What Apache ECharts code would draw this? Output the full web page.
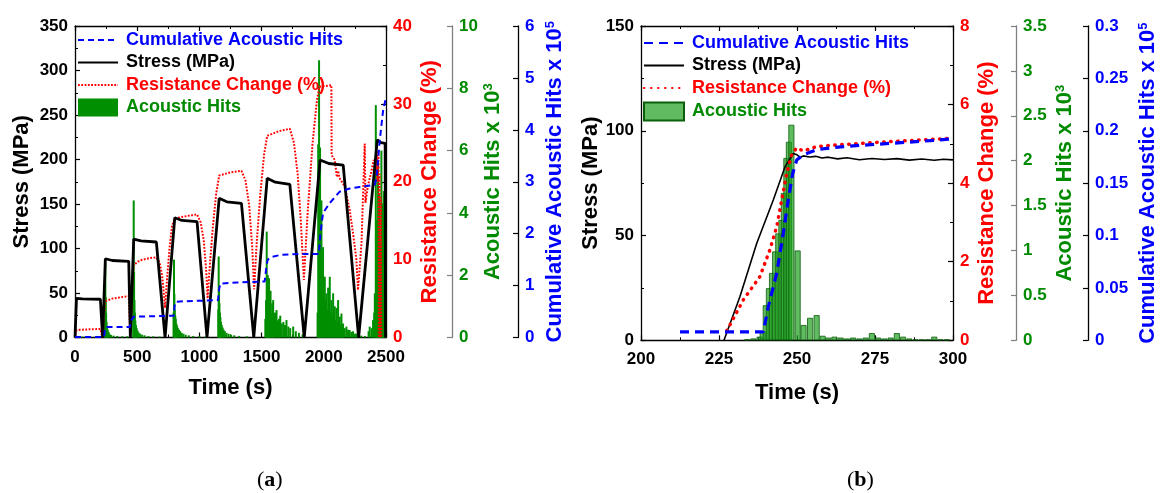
<!DOCTYPE html>
<html><head><meta charset="utf-8">
<script src="https://cdn.jsdelivr.net/npm/echarts@6/dist/echarts.min.js"></script>
<style>html,body{margin:0;padding:0;background:#fff}#c{width:1161px;height:493px}</style>
</head><body><div id="c"></div>
<script>
// ---------- Panel (a) data : [time s, value] ----------
const aStress = [[0,0],[12,44],[60,43.5],[204,43],[222,0],[228,0],[244,88.5],[300,86.5],[432,85.6],[445,0],[452,0],[472,110.5],[530,108.5],[654,107.3],[724,0],[802,134.6],[860,131.5],[981,130.1],[1061,0],[1159,156.4],[1220,152.5],[1338,150.8],[1437,0],[1545,178.9],[1610,174.5],[1727,172.1],[1843,0],[1970,199.4],[2040,195.5],[2156,193.8],[2280,0],[2430,222],[2460,219],[2493,218],[2496,0]];
const aResist = [[0,0],[8,0.9],[40,1.0],[120,1.05],[204,1.1],[212,0.5],[222,0.05],[230,0.2],[240,4.4],[250,4.7],[300,5.0],[380,5.2],[432,5.33],[438,3],[445,0.3],[452,2.5],[462,7.5],[472,9.3],[520,9.9],[600,10.2],[654,10.3],[680,9.6],[700,8.0],[715,5.5],[724,3.8],[740,7.5],[760,11.5],[780,14.3],[802,15.3],[900,15.6],[981,15.8],[1010,14.8],[1035,12.5],[1055,8.5],[1066,5.0],[1085,9.5],[1110,14.5],[1135,18.5],[1159,20.8],[1250,21.2],[1338,21.4],[1370,20.2],[1400,17.0],[1425,11.5],[1440,6.2],[1460,12],[1490,18.5],[1520,23.5],[1545,25.9],[1640,26.5],[1727,26.8],[1760,25.0],[1790,21.0],[1815,15.0],[1840,7.4],[1870,16],[1910,25],[1945,30.5],[1965,32.2],[1975,32.4],[2061,32.4],[2063,23.4],[2088,22.8],[2105,20.6],[2115,21.4],[2125,20.5],[2168,19.4],[2208,16.4],[2235,13.4],[2262,10.0],[2275,6.1],[2303,12.1],[2329,24.9],[2335,17.3],[2355,19.5],[2385,21.5],[2400,22.8],[2415,21],[2425,24],[2432,20],[2440,23.5],[2442,0],[2448,21],[2452,0],[2458,18],[2462,0]];
const aCumul = [[0,0.01],[235,0.01],[240,0.15],[248,0.2],[440,0.2],[447,0.3],[470,0.4],[480,0.41],[794,0.42],[800,0.6],[810,0.69],[900,0.7],[1150,0.72],[1160,0.95],[1170,1.04],[1300,1.06],[1525,1.08],[1540,1.4],[1550,1.5],[1580,1.55],[1650,1.59],[1800,1.61],[1960,1.61],[1973,2.01],[1994,2.4],[2048,2.59],[2128,2.81],[2209,2.87],[2289,2.9],[2410,2.94],[2425,3.1],[2450,3.8],[2477,4.38],[2498,4.6]];
const aHits = [[20,0.05],[60,0.03],[120,0.03],[180,0.03],
[240,0.6],[244,2.4],[247,1.3],[250,0.8],[254,0.5],[258,0.35],[263,0.25],[270,0.18],[278,0.12],[290,0.08],[310,0.06],[340,0.05],[380,0.04],[420,0.04],
[468,1.0],[472,4.4],[475,2.1],[478,1.2],[481,0.8],[485,0.55],[490,0.4],[496,0.3],[503,0.22],[512,0.16],[524,0.12],[540,0.09],[560,0.07],[590,0.05],[630,0.04],[680,0.03],
[792,0.8],[796,2.5],[799,1.4],[802,0.9],[806,0.7],[810,0.6],[815,0.45],[821,0.38],[828,0.3],[836,0.25],[846,0.2],[858,0.15],[872,0.12],[890,0.09],[915,0.07],[950,0.05],[1000,0.04],[1050,0.03],
[1152,0.9],[1155,2.6],[1158,1.5],[1161,1.1],[1165,0.8],[1169,0.65],[1174,0.5],[1180,0.4],[1187,0.32],[1195,0.25],[1205,0.2],[1218,0.15],[1235,0.12],[1255,0.09],[1280,0.07],[1320,0.05],[1380,0.04],
[1530,0.6],[1536,1.2],[1541,3.4],[1546,1.5],[1550,2.0],[1555,1.1],[1560,1.9],[1566,1.0],[1572,1.5],[1578,0.8],[1585,1.1],[1593,1.2],[1600,0.7],[1608,0.8],[1620,0.88],[1630,0.55],[1640,0.6],[1650,0.7],[1662,0.45],[1675,0.5],[1688,0.4],[1700,0.56],[1715,0.35],[1730,0.3],[1754,0.35],[1775,0.2],[1800,0.15],[1830,0.1],
[1950,0.8],[1955,6.2],[1962,8.9],[1966,3.5],[1970,6.1],[1975,2.8],[1981,4.4],[1986,2.0],[1994,2.9],[2000,1.5],[2008,1.95],[2014,1.2],[2021,1.42],[2028,0.9],[2035,1.6],[2042,1.0],[2048,1.95],[2055,0.8],[2061,1.2],[2068,0.7],[2075,1.42],[2082,0.6],[2088,1.0],[2095,0.55],[2102,0.95],[2108,0.5],[2115,1.2],[2122,0.45],[2128,0.67],[2135,0.4],[2142,0.77],[2150,0.35],[2155,0.45],[2168,0.3],[2182,0.35],[2195,0.25],[2208,0.24],[2222,0.18],[2235,0.2],[2250,0.12],[2262,0.13],[2280,0.08],[2300,0.06],[2330,0.05],[2360,0.2],
[2369,0.35],[2385,0.3],[2396,0.56],[2405,0.8],[2410,1.42],[2418,7.46],[2423,2.5],[2428,3.77],[2432,2.0],[2436,5.7],[2440,3.2],[2444,4.63],[2450,1.8],[2455,2.5],[2459,3.0],[2463,6.0],[2467,2.2],[2471,4.3],[2476,3.0],[2482,4.7],[2486,2.6],[2490,4.63],[2495,3.5]];

// ---------- Panel (b) data ----------
const bStress = [[226.6,0],[231.7,20.8],[237.1,46.3],[242.4,67],[246.2,82.9],[248.8,89.2],[250,88.5],[251,87.3],[252,88],[254,87.5],[256,87.8],[258,87],[260,87.4],[263,86.6],[266,87.1],[270,86.2],[274,86.8],[278,86.3],[282,86.7],[286,86],[290,86.5],[294,85.9],[297,86.4],[300,86.1]];
const bResist = [[227.5,0.24],[232.8,1.03],[238.1,1.62],[241.3,2.3],[243.5,2.89],[245.1,3.57],[246.7,4.25],[248.3,4.72],[249.9,4.9],[252,4.82],[256.3,4.93],[262,4.97],[270.2,5.01],[280,5.06],[290,5.1],[299,5.14]];
const bCumul = [[212.5,0.008],[239.2,0.008],[240.8,0.032],[243.5,0.064],[245.6,0.102],[247.2,0.134],[248.6,0.159],[249.9,0.172],[252,0.177],[256.3,0.182],[262,0.184],[270,0.186],[280,0.188],[290,0.19],[299,0.192]];
const bHits = [[234,0.01],[236,0.02],[238,0.04],[239,0.1],[240,0.39],[241,0.58],[242,0.75],[243,0.99],[244,1.19],[245,1.34],[245.8,1.64],[246.6,2.03],[247.4,2.21],[248.2,2.4],[250.2,1.0],[252.1,0.17],[254.2,0.25],[256.3,0.28],[258.2,0.05],[260,0.03],[262,0.04],[264,0.03],[266,0.02],[268,0.03],[270,0.02],[272,0.03],[274,0.08],[276,0.03],[278,0.02],[280,0.03],[282,0.08],[284,0.04],[286,0.02],[288,0.01],[290,0.01],[292,0.01],[294,0.04],[296,0.01],[298,0.01]];

// ---------- tick / axis settings ----------
const aX = {min:0, max:2500, interval:500};
const aY = [{min:0,max:350,interval:50},{min:0,max:40,interval:10},{min:0,max:10,interval:2},{min:0,max:6,interval:1}];
const bX = {min:200, max:300, interval:25};
const bY = [{min:0,max:150,interval:50},{min:0,max:8,interval:2},{min:0,max:3.5,interval:0.5},{min:0,max:0.3,interval:0.05}];

const F = '"Liberation Sans", Arial, Helvetica, sans-serif';
const RED='#ff0000', BLUE='#0000ff', GREEN='#008a00', BLACK='#000000';
const names = ['Cumulative Acoustic Hits','Stress (MPa)','Resistance Change (%)','Acoustic Hits'];

function nts(color){
  return {color, fontFamily:F, fontWeight:'bold', fontSize:22,
    rich:{m:{color, fontFamily:F, fontWeight:'bold', fontSize:22},
          s:{color, fontFamily:F, fontWeight:'bold', fontSize:13, verticalAlign:'top'}}};
}
function yAx(grid, sc, pos, offset, color, lineColor, name, gap, minor, fmtDec){
  return {type:'value', gridIndex:grid, position:pos, offset:offset, min:sc.min, max:sc.max, interval:sc.interval,
    splitLine:{show:false},
    axisLine:{show:true, onZero:false, lineStyle:{color:lineColor, width:1.3}},
    axisTick:{show:true, inside:true, length:5, lineStyle:{color:lineColor, width:1.2}},
    minorTick:{show:minor, splitNumber:2, length:3, lineStyle:{color:lineColor, width:1}},
    axisLabel:{color, fontFamily:F, fontWeight:'bold', fontSize:17, margin:7,
      formatter: v => String(+v.toFixed(fmtDec))},
    name, nameLocation:'middle', nameGap:gap, nameTextStyle:nts(color)};
}
function xAx(grid, sc, gap, top){
  return {type:'value', gridIndex:grid, position: top?'top':'bottom', min:sc.min, max:sc.max, interval:sc.interval,
    splitLine:{show:false},
    axisLine:{show:true, onZero:false, lineStyle:{color:BLACK, width:1.3}},
    axisTick:{show:true, inside:true, length:5, lineStyle:{color:BLACK, width:1.2}},
    minorTick:{show:true, splitNumber:2, length:3, lineStyle:{color:BLACK, width:1}},
    axisLabel:{show:!top, color:BLACK, fontFamily:F, fontWeight:'bold', fontSize:17, margin:11,
      formatter: v => String(v)},
    name: top?'':'Time (s)', nameLocation:'middle', nameGap:gap, nameTextStyle:nts(BLACK)};
}
function legend(left, top, sfx){
  const cols=[BLUE,BLACK,RED,GREEN];
  return {left, top, orient:'vertical', itemWidth:40, itemHeight:18, itemGap:4.5, selectedMode:false,
    padding:0, textStyle:{fontFamily:F, fontWeight:'bold', fontSize:18, padding:[0,0,0,3]},
    data: names.map((n,i)=>{
      const d = {name:n+sfx, textStyle:{color:cols[i], fontFamily:F, fontWeight:'bold', fontSize:18}};
      if (i===3) d.icon='rect'; else d.itemStyle={opacity:0};
      return d;
    })};
}

const chart = echarts.init(document.getElementById('c'), null, {renderer:'canvas'});
chart.setOption({
  animation:false,
  backgroundColor:'#fff',
  grid:[{left:75, top:26, width:311, height:311.5},{left:641, top:26, width:312, height:314.3}],
  xAxis:[xAx(0,aX,39,false), xAx(0,aX,0,true), xAx(1,bX,42,false), xAx(1,bX,0,true)],
  yAxis:[
    yAx(0,aY[0],'left',0,BLACK,BLACK,'Stress (MPa)',42,true,0),
    yAx(0,aY[1],'right',0,RED,BLACK,'Resistance Change (%)',33,true,0),
    yAx(0,aY[2],'right',66,GREEN,'#808080','{m|Acoustic Hits x 10}{s|3}',29,false,0),
    yAx(0,aY[3],'right',132,BLUE,BLACK,'{m|Cumulative Acoustic Hits x 10}{s|5}',26,false,0),
    yAx(1,bY[0],'left',0,BLACK,BLACK,'Stress (MPa)',35,true,0),
    yAx(1,bY[1],'right',0,RED,BLACK,'Resistance Change (%)',23,true,0),
    yAx(1,bY[2],'right',63,GREEN,'#808080','{m|Acoustic Hits x 10}{s|3}',38,false,1),
    yAx(1,bY[3],'right',135,BLUE,BLACK,'{m|Cumulative Acoustic Hits x 10}{s|5}',49,false,2)
  ],
  legend:[legend(77,31,''), legend(643,34,' ')],
  series:[
    {type:'bar', name:names[3], xAxisIndex:0, yAxisIndex:2, data:aHits, barWidth:2, itemStyle:{color:'#008f00'}, z:1},
    {type:'line', name:names[2], xAxisIndex:0, yAxisIndex:1, data:aResist, symbol:'none', itemStyle:{color:RED}, lineStyle:{color:RED, width:2, type:[1.8,1.5]}, z:2},
    {type:'line', name:names[1], xAxisIndex:0, yAxisIndex:0, data:aStress, symbol:'none', itemStyle:{color:BLACK}, lineStyle:{color:BLACK, width:2.8}, z:3},
    {type:'line', name:names[0], xAxisIndex:0, yAxisIndex:3, data:aCumul, symbol:'none', itemStyle:{color:BLUE}, lineStyle:{color:BLUE, width:2, type:[6,4]}, z:4},

    {type:'bar', name:names[3]+' ', xAxisIndex:2, yAxisIndex:6, data:bHits, barWidth:6, itemStyle:{color:'rgba(30,160,30,0.7)', borderColor:'#0b5e0b', borderWidth:0.8}, z:1},
    {type:'line', name:names[1]+' ', xAxisIndex:2, yAxisIndex:4, data:bStress, symbol:'none', itemStyle:{color:BLACK}, lineStyle:{color:BLACK, width:1.6}, z:2},
    {type:'line', name:names[2]+' ', xAxisIndex:2, yAxisIndex:5, data:bResist, symbol:'none', itemStyle:{color:RED}, lineStyle:{color:RED, width:3.5, type:[0.5,6.5], cap:'round'}, z:3},
    {type:'line', name:names[0]+' ', xAxisIndex:2, yAxisIndex:7, data:bCumul, symbol:'none', itemStyle:{color:BLUE}, lineStyle:{color:BLUE, width:3.2, type:[9,6]}, z:4}
  ],
  graphic:[
    {type:'text', left:257, top:469, style:{text:'{p|(}{b|a}{p|)}', rich:{p:{fontFamily:'"Liberation Serif", serif', fontSize:22, fill:'#000'}, b:{fontFamily:'"Liberation Serif", serif', fontSize:22, fontWeight:'bold', fill:'#000'}}}},
    {type:'text', left:847, top:469, style:{text:'{p|(}{b|b}{p|)}', rich:{p:{fontFamily:'"Liberation Serif", serif', fontSize:22, fill:'#000'}, b:{fontFamily:'"Liberation Serif", serif', fontSize:22, fontWeight:'bold', fill:'#000'}}}}
  ]
});
</script></body></html>
